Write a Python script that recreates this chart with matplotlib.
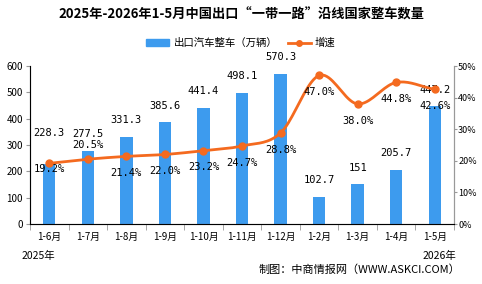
import numpy as np
import matplotlib.pyplot as plt
from matplotlib.patches import Patch
from matplotlib.lines import Line2D

plt.rcParams['font.family'] = ['Noto Sans CJK SC', 'DejaVu Sans']

# data
months = ['1-6月', '1-7月', '1-8月', '1-9月', '1-10月', '1-11月', '1-12月',
          '1-2月', '1-3月', '1-4月', '1-5月']
volume = [228.3, 277.5, 331.3, 385.6, 441.4, 498.1, 570.3, 102.7, 151, 205.7, 447.2]
volume_labels = ['228.3', '277.5', '331.3', '385.6', '441.4', '498.1', '570.3',
                 '102.7', '151', '205.7', '447.2']
growth = [19.2, 20.5, 21.4, 22.0, 23.2, 24.7, 28.8, 47.0, 38.0, 44.8, 42.6]

bar_color = '#3D9BEE'
line_color = '#F46A1F'


def smooth(x, y, n=20):
    # catmull-rom curve through the points, for drawing only
    px = np.concatenate([[2 * x[0] - x[1]], x, [2 * x[-1] - x[-2]]])
    py = np.concatenate([[2 * y[0] - y[1]], y, [2 * y[-1] - y[-2]]])
    xs, ys = [], []
    t = np.linspace(0, 1, n, endpoint=False)
    for i in range(1, len(px) - 2):
        p0, p1, p2, p3 = py[i - 1], py[i], py[i + 1], py[i + 2]
        q0, q1, q2, q3 = px[i - 1], px[i], px[i + 1], px[i + 2]
        ys.extend(0.5 * (2 * p1 + (-p0 + p2) * t + (2 * p0 - 5 * p1 + 4 * p2 - p3) * t ** 2
                         + (-p0 + 3 * p1 - 3 * p2 + p3) * t ** 3))
        xs.extend(0.5 * (2 * q1 + (-q0 + q2) * t + (2 * q0 - 5 * q1 + 4 * q2 - q3) * t ** 2
                         + (-q0 + 3 * q1 - 3 * q2 + q3) * t ** 3))
    xs.append(x[-1])
    ys.append(y[-1])
    return np.array(xs), np.array(ys)


fig = plt.figure(figsize=(4.82, 2.84), dpi=100)
ax = fig.add_axes([30 / 482, 1 - 224 / 284, 424 / 482, 158 / 284])
x = np.arange(len(months))

ax.bar(x, volume, width=0.32, color=bar_color, zorder=2)
ax.set_ylim(0, 600)
ax.set_xlim(-0.5, len(months) - 0.5)
ax.set_yticks(range(0, 601, 100))
ax.set_xticks(x)
ax.set_xticklabels(months, fontsize=7)
ax.set_xticks(np.arange(-0.5, len(months), 1), minor=True)
ax.tick_params(axis='x', which='major', length=0, pad=6)
ax.tick_params(axis='x', which='minor', length=4, color='#999999')
ax.tick_params(axis='y', labelsize=7, length=3, pad=2, color='#999999')
ax.spines['top'].set_visible(False)
for s in ['left', 'bottom', 'right']:
    ax.spines[s].set_color('#999999')

for i, v in enumerate(volume):
    dy = 12 if i != 0 else 22
    ax.annotate(volume_labels[i], (i, v), xytext=(0, dy), textcoords='offset points',
                ha='center', va='center', fontsize=7.5, family='DejaVu Sans Mono')

ax2 = ax.twinx()
ax2.set_ylim(0, 50)
ax2.set_yticks(range(0, 51, 10))
ax2.set_yticklabels([f'{v}%' for v in range(0, 51, 10)], fontsize=6.5)
ax2.tick_params(axis='y', length=2, pad=1, color='#999999')
ax2.spines['top'].set_visible(False)
ax2.spines['right'].set_color('#999999')
sx, sy = smooth(x.astype(float), np.array(growth))
ax2.plot(sx, sy, color=line_color, lw=2, zorder=3)
ax2.plot(x, growth, 'o', color=line_color, ms=5, zorder=4)

for i, g in enumerate(growth):
    if i == 1:
        dy = 10
    elif i == 0:
        dy = -4
    else:
        dy = -12
    ax2.annotate(f'{g:.1f}%', (i, g), xytext=(0, dy), textcoords='offset points',
                 ha='center', va='center', fontsize=7.5, family='DejaVu Sans Mono')

fig.text(0.5, 1 - 15 / 284, '2025年-2026年1-5月中国出口“一带一路”沿线国家整车数量',
         ha='center', va='center', fontsize=9.5, fontweight='bold')

# legend
handles = [Patch(color=bar_color, label='出口汽车整车（万辆）'),
           Line2D([], [], color=line_color, marker='o', ms=4, lw=2, label='增速')]
fig.legend(handles=handles, loc='center', bbox_to_anchor=(0.5, 1 - 43 / 284), ncol=2,
           frameon=False, fontsize=7.5, handlelength=2.2, handleheight=0.6,
           columnspacing=1.0, handletextpad=0.4)

fig.text(22 / 482, 1 - 256 / 284, '2025年', ha='left', va='center', fontsize=7.5)
fig.text(456 / 482, 1 - 256 / 284, '2026年', ha='right', va='center', fontsize=7.5)
fig.text(460 / 482, 1 - 270 / 284, '制图：中商情报网（WWW.ASKCI.COM）', ha='right',
         va='center', fontsize=8)

fig.savefig('out.png', dpi=100)
